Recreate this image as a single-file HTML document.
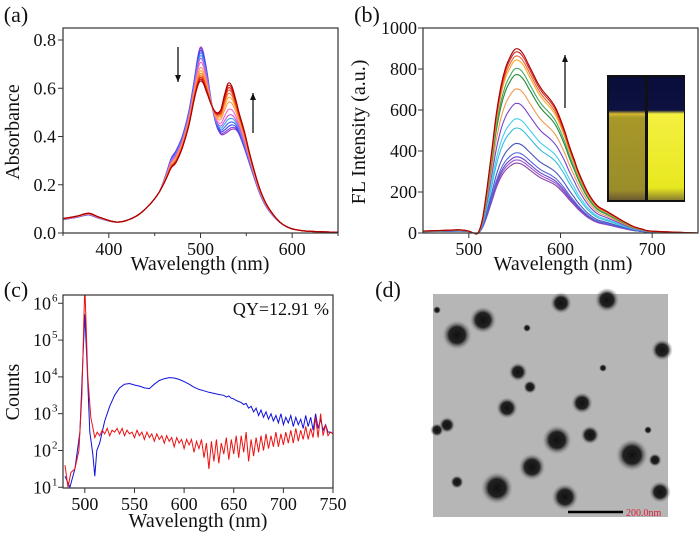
<!DOCTYPE html>
<html><head><meta charset="utf-8"><style>
body{margin:0;background:#fff;}
svg{display:block;font-family:"Liberation Serif",serif;}
</style></head><body>
<svg id="fig" width="700" height="541" viewBox="0 0 700 541" xmlns="http://www.w3.org/2000/svg">
<defs>
<radialGradient id="dot"><stop offset="0" stop-color="#111"/><stop offset="0.55" stop-color="#222"/><stop offset="1" stop-color="#999" stop-opacity="0"/></radialGradient>
<linearGradient id="vialL" x1="0" y1="0" x2="0" y2="1"><stop offset="0" stop-color="#0a0d3a"/><stop offset="0.27" stop-color="#0d1240"/><stop offset="0.3" stop-color="#d8b830"/><stop offset="0.33" stop-color="#a89828"/><stop offset="0.92" stop-color="#9a8d2a"/><stop offset="1" stop-color="#6b5a30"/></linearGradient>
<linearGradient id="vialR" x1="0" y1="0" x2="0" y2="1"><stop offset="0" stop-color="#0a0d3a"/><stop offset="0.27" stop-color="#0d1240"/><stop offset="0.3" stop-color="#f4f040"/><stop offset="0.9" stop-color="#e8e820"/><stop offset="1" stop-color="#8a8030"/></linearGradient>
<clipPath id="cclip"><rect x="63" y="295" width="270" height="193"/></clipPath>
</defs>
<g id="pa"></g>
<g id="pb"></g>
<g id="pc"></g>
<g id="pd"></g>
</svg>
<script>
// ---------- Panel A data ----------
const aWl = [350,365,378,390,410,430,445,455,462,468,473,480,487,493,497,500,503,507,512,517,522,526,530,534,538,542,548,555,565,575,590,610,650];
const aStart = [.055,.065,.075,.06,.045,.07,.12,.17,.24,.31,.34,.40,.50,.63,.73,.77,.75,.67,.54,.45,.41,.41,.42,.43,.43,.41,.35,.27,.16,.09,.035,.01,.003];
const aEnd = [.06,.07,.082,.065,.045,.07,.12,.17,.22,.27,.29,.35,.44,.55,.61,.63,.62,.58,.53,.50,.51,.57,.62,.61,.56,.50,.42,.31,.18,.10,.035,.01,.003];
const aMix = [0,0.04,0.1,0.17,0.25,0.33,0.45,0.6,0.7,0.78,0.85,0.9,0.95,1];
const aColors = ["#9933cc","#7744dd","#3344ee","#4466ff","#33aaee","#cc55dd","#ee66cc","#ff9955","#ffaa33","#ff7722","#ee5522","#dd2222","#cc1111","#aa0000"];
const aXTicks = [400,500,600];
const aYTicks = ["0.0","0.2","0.4","0.6","0.8"];
// ---------- Panel B data ----------
const bWl = [450,480,490,500,505,510,515,520,525,530,535,540,545,550,555,560,565,570,575,580,585,590,595,600,605,610,615,620,630,640,650,660,670,680,690,700,750];
const bShape = [.005,.01,.012,.005,0,0,.08,.25,.45,.65,.8,.9,.96,1,1,.97,.92,.87,.82,.78,.75,.72,.68,.62,.55,.47,.40,.33,.22,.15,.12,.09,.06,.035,.02,.01,0];
const bPeaks = [340,355,370,390,435,510,555,630,700,770,800,840,860,880,895];
const bColors = ["#8844aa","#9955cc","#6644cc","#5566dd","#4455bb","#33bbdd","#44ccee","#7744cc","#ee9955","#228833","#44aa66","#ffaa22","#ee6633","#cc2222","#aa0000"];
const bXTicks = [500,600,700];
const bYTicks = [0,200,400,600,800,1000];
// ---------- Panel C data (log10 counts) ----------
const cBlueWl = [480,485,490,495,498,500,502,505,508,510,512,515,520,525,530,535,540,545,550,555,560,565,570,575,580,585,590,595,600,605,610,615,620,625,630,635];
const cBlue = [1.3,1.0,1.5,2.5,4.5,5.7,4.5,2.5,1.9,1.3,2.0,2.2,2.8,3.2,3.5,3.7,3.8,3.82,3.78,3.75,3.7,3.68,3.8,3.9,3.95,3.98,3.97,3.93,3.87,3.8,3.72,3.66,3.62,3.58,3.55,3.52];
const cBlueTailStart = 640, cStep = 2.5;
const cBlueTail = [3.5,3.45,3.48,3.42,3.4,3.36,3.33,3.3,3.25,3.28,3.15,3.2,3.05,3.15,2.95,3.1,2.9,3.05,2.85,3.0,2.8,2.95,2.75,3.0,2.7,2.9,2.75,2.95,2.65,2.9,2.7,2.85,2.6,2.95,2.65,2.9,2.55,3.0,2.6,2.85,2.55,2.7,2.5,2.5,2.45];
const cRedWl = [480,483,486,490,494,497,500,503,506];
const cRed = [1.6,1.0,1.4,1.5,2.0,3.5,6.5,4.0,2.9];
const cRedTailStart = 510;
const cRedTail = [2.35,2.5,2.4,2.55,2.45,2.6,2.4,2.55,2.5,2.6,2.45,2.6,2.4,2.55,2.45,2.5,2.35,2.55,2.4,2.5,2.3,2.5,2.35,2.45,2.25,2.45,2.3,2.4,2.2,2.4,2.25,2.35,2.1,2.35,2.2,2.3,2.05,2.3,2.15,2.3,1.95,2.25,2.05,2.3,1.8,2.2,1.5,2.25,1.7,2.3,1.65,2.2,1.9,2.35,1.75,2.3,1.9,2.4,1.8,2.4,1.95,2.5,1.7,2.3,1.85,2.35,1.95,2.4,2.0,2.45,2.05,2.4,2.1,2.5,2.1,2.45,2.15,2.5,2.2,2.55,2.2,2.6,2.25,2.55,2.3,2.65,2.3,2.6,2.35,2.9,2.35,3.0,2.4,2.7,2.4,2.5,2.45];
const cXTicks = [500,550,600,650,700,750];
const cYExp = [1,2,3,4,5,6];
// ---------- Panel D particles ----------
const dParticles = [[457,335,11],[483,320,10],[561,303,8],[607,300,9],[662,350,8],[518,372,7],[530,387,5],[507,408,8],[582,403,8],[557,440,11],[590,435,7],[532,467,10],[632,455,12],[655,460,5],[497,488,12],[565,497,10],[660,492,8],[457,482,5],[447,425,6],[437,430,5],[527,328,3],[648,430,3],[437,310,3],[603,368,3]];

const NS="http://www.w3.org/2000/svg";
function mk(parent,tag,attrs,text){const e=document.createElementNS(NS,tag);for(const k in attrs)e.setAttribute(k,attrs[k]);if(text!==undefined)e.textContent=text;parent.appendChild(e);return e;}
function smooth(pts){
  let d='M'+pts[0][0].toFixed(1)+' '+pts[0][1].toFixed(1);
  for(let i=0;i<pts.length-1;i++){
    const p0=pts[i-1]||pts[i],p1=pts[i],p2=pts[i+1],p3=pts[i+2]||p2;
    const c1x=p1[0]+(p2[0]-p0[0])/6,c1y=p1[1]+(p2[1]-p0[1])/6;
    const c2x=p2[0]-(p3[0]-p1[0])/6,c2y=p2[1]-(p3[1]-p1[1])/6;
    d+=`C${c1x.toFixed(1)} ${c1y.toFixed(1)} ${c2x.toFixed(1)} ${c2y.toFixed(1)} ${p2[0].toFixed(1)} ${p2[1].toFixed(1)}`;
  }
  return d;
}
function frame(g,x0,y0,x1,y1){
  const r=mk(g,'rect',{x:x0,y:y0,width:x1-x0,height:y1-y0,fill:'none',stroke:'#333','stroke-width':1.2});
  
  
}
function label(g,x,y,t,size,name,anchor,rot){
  const a={x:x,y:y,'font-size':size,fill:'#111','text-anchor':anchor||'middle'};
  if(rot)a.transform=`rotate(-90 ${x} ${y})`;
  const e=mk(g,'text',a,t);
  
  
  return e;
}
function arrow(g,x,y1,y2,name){
  const e=mk(g,'g',{});
  
  
  mk(e,'line',{x1:x,y1:y1,x2:x,y2:y2,stroke:'#111','stroke-width':1.3});
  const d=y2>y1?1:-1;
  mk(e,'path',{d:`M${x-3} ${y2-7*d} L${x} ${y2} L${x+3} ${y2-7*d}Z`,fill:'#111'});
}

// ===== Panel A =====
(function(){
  const g=document.getElementById('pa');
  const X0=63,X1=338,Y0=28,Y1=233;
  const sx=w=>X0+(w-350)/300*(X1-X0);
  const yA=v=>Y1-v*(Y1-40)/0.8;
  aMix.forEach((t,i)=>{
    const pts=aWl.map((w,j)=>[sx(w),yA(aStart[j]*(1-t)+aEnd[j]*t)]);
    const p=mk(g,'path',{d:smooth(pts),fill:'none',stroke:aColors[i],'stroke-width':1.1,'stroke-linejoin':'round'});
    
    
  });
  frame(g,X0,Y0,X1,Y1);
  aXTicks.forEach(w=>{mk(g,'line',{x1:sx(w),y1:Y1,x2:sx(w),y2:Y1+5,stroke:'#333'});label(g,sx(w),Y1+22,String(w),18,'x-tick-label');});
  [350,450,550,650].forEach(w=>mk(g,'line',{x1:sx(w),y1:Y1,x2:sx(w),y2:Y1+3,stroke:'#333'}));
  aYTicks.forEach(t=>{const y=yA(parseFloat(t));mk(g,'line',{x1:X0-5,y1:y,x2:X0,y2:y,stroke:'#333'});label(g,X0-7,y+6,t,18,'y-tick-label','end');});
  label(g,200,270,'Wavelength (nm)',20,'x-axis-title');
  label(g,19,132,'Absorbance',20,'y-axis-title','middle',true);
  label(g,16,22,'(a)',22,'panel-label-a');
  arrow(g,178,47,82,'decrease-arrow');
  arrow(g,253,133,93,'increase-arrow');
})();

// ===== Panel B =====
(function(){
  const g=document.getElementById('pb');
  const X0=423,X1=698,Y0=28,Y1=233;
  const sx=w=>X0+(w-450)/300*(X1-X0);
  const sy=v=>Y1-v/1000*(Y1-Y0);
  bPeaks.forEach((pk,i)=>{
    const pts=bWl.map((w,j)=>[sx(w),sy(bShape[j]*pk+(w<505?5:0))]);
    const p=mk(g,'path',{d:smooth(pts),fill:'none',stroke:bColors[i],'stroke-width':1.1,'stroke-linejoin':'round'});
    
    
  });
  frame(g,X0,Y0,X1,Y1);
  bXTicks.forEach(w=>{mk(g,'line',{x1:sx(w),y1:Y1,x2:sx(w),y2:Y1+5,stroke:'#333'});label(g,sx(w),Y1+22,String(w),18,'x-tick-label');});
  bYTicks.forEach(t=>{const y=sy(t);mk(g,'line',{x1:X0-5,y1:y,x2:X0,y2:y,stroke:'#333'});label(g,X0-6,y+6,String(t),18,'y-tick-label','end');});
  label(g,563,270,'Wavelength (nm)',20,'x-axis-title');
  label(g,365,132,'FL Intensity (a.u.)',20,'y-axis-title','middle',true);
  label(g,367,22,'(b)',22,'panel-label-b');
  arrow(g,565,108,55,'increase-arrow');
  const ins=mk(g,'g',{});
  
  
  mk(ins,'rect',{x:607,y:75,width:78,height:127,fill:'#111'});
  mk(ins,'rect',{x:609,y:77,width:36,height:123,fill:'url(#vialL)'});
  mk(ins,'rect',{x:648,y:77,width:36,height:123,fill:'url(#vialR)'});
})();

// ===== Panel C =====
(function(){
  const g=document.getElementById('pc');
  const X0=63,X1=333,Y0=295,Y1=488;
  const sx=w=>X0+(w-478)/272*(X1-X0);
  const sy=e=>Y1-(e-0.98)*36.8;
  const blueW=cBlueWl.concat(cBlueTail.map((v,i)=>cBlueTailStart+i*cStep));
  const blueV=cBlue.concat(cBlueTail);
  const redW=cRedWl.concat(cRedTail.map((v,i)=>cRedTailStart+i*cStep));
  const redV=cRed.concat(cRedTail);
  [[blueW,blueV,'#1010dd','blue-spectrum'],[redW,redV,'#ee1111','red-spectrum']].forEach(([wl,v,c,n])=>{
    let d='';wl.forEach((w,j)=>{d+=(j?'L':'M')+sx(w).toFixed(1)+' '+sy(v[j]).toFixed(1);});
    const p=mk(g,'path',{d:d,fill:'none',stroke:c,'stroke-width':1,'clip-path':'url(#cclip)'});
    
    
  });
  frame(g,X0,Y0,X1,Y1);
  cXTicks.forEach(w=>{mk(g,'line',{x1:sx(w),y1:Y1,x2:sx(w),y2:Y1+5,stroke:'#333'});label(g,sx(w),Y1+22,String(w),18,'x-tick-label');});
  cYExp.forEach(e=>{const y=sy(e);mk(g,'line',{x1:X0-5,y1:y,x2:X0,y2:y,stroke:'#333'});
    label(g,X0-12,y+6,'10',18,'y-tick-label','end');
    mk(g,'text',{x:X0-11,y:y-2,'font-size':11,fill:'#111'},String(e));});
  label(g,198,527,'Wavelength (nm)',20,'x-axis-title');
  label(g,19,392,'Counts',20,'y-axis-title','middle',true);
  label(g,16,297,'(c)',22,'panel-label-c');
  label(g,329,315,'QY=12.91 %',18,'quantum-yield-label','end');
})();

// ===== Panel D =====
(function(){
  const g=document.getElementById('pd');
  label(g,388,297,'(d)',22,'panel-label-d');
  const img=mk(g,'g',{});
  
  
  mk(img,'rect',{x:433,y:294,width:235,height:223,fill:'#b6b6b6'});
  dParticles.forEach(([x,y,r])=>{
    const c=mk(img,'circle',{cx:x,cy:y,r:r*1.35,fill:'url(#dot)'});
    
    
  });
  const sb=mk(g,'line',{x1:568,y1:512,x2:623,y2:512,stroke:'#000','stroke-width':2.5});
  
  
  const st=mk(g,'text',{x:626,y:516,'font-size':10,fill:'#e0203a'},'200.0nm');
  
  
})();
</script>
</body></html>
